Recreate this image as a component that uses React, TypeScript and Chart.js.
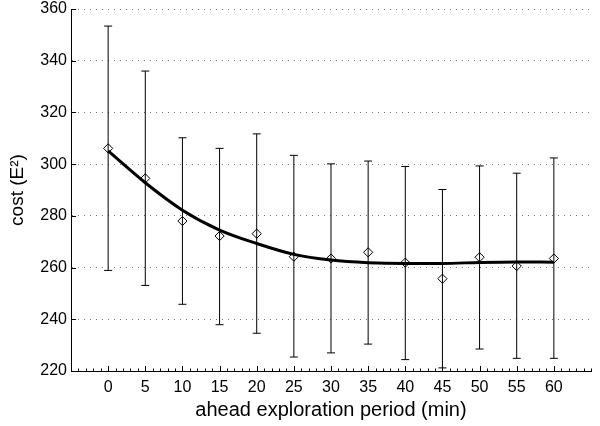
import React, { useEffect, useRef } from "react";
import { Chart, registerables } from "chart.js";
Chart.register(...registerables);

const periods = [0, 5, 10, 15, 20, 25, 30, 35, 40, 45, 50, 55, 60];
const meanCost = [306.1, 294.5, 278.0, 272.2, 273.1, 264.2, 263.5, 265.9, 261.9, 255.7, 264.0, 260.6, 263.5];
const upperCost = [353.4, 336.0, 310.2, 306.1, 311.7, 303.4, 300.1, 301.2, 299.1, 290.2, 299.3, 296.5, 302.4];
const lowerCost = [258.9, 253.1, 245.8, 237.9, 234.6, 225.4, 227.0, 230.4, 224.4, 221.2, 228.5, 224.9, 224.9];
const fitCost = [305.1, 292.8, 282.2, 274.5, 269.3, 265.1, 262.9, 261.9, 261.6, 261.6, 262.0, 262.2, 262.1];
const xTickLabels = [0, 5, 10, 15, 20, 25, 30, 35, 40, 45, 50, 55, 60];
const yTickLabels = [220, 240, 260, 280, 300, 320, 340, 360];

const FONT = "'Liberation Sans', Arial, Helvetica, sans-serif";

const errorBarPlugin = {
  id: "errorBars",
  beforeDatasetsDraw(chart: any) {
    const { ctx, scales } = chart;
    const x = scales.x;
    const y = scales.y;
    ctx.save();
    ctx.strokeStyle = "#000";
    ctx.lineWidth = 1;
    periods.forEach((p, i) => {
      const px = x.getPixelForValue(p);
      const top = y.getPixelForValue(upperCost[i]);
      const bot = y.getPixelForValue(lowerCost[i]);
      ctx.beginPath();
      ctx.moveTo(px, top);
      ctx.lineTo(px, bot);
      ctx.moveTo(px - 4, top);
      ctx.lineTo(px + 4, top);
      ctx.moveTo(px - 4, bot);
      ctx.lineTo(px + 4, bot);
      ctx.stroke();
    });
    ctx.restore();
  },
  afterDraw(chart: any) {
    const { ctx, scales, chartArea } = chart;
    const x = scales.x;
    const y = scales.y;
    ctx.save();
    ctx.strokeStyle = "#000";
    ctx.lineWidth = 1;
    ctx.beginPath();
    for (let v = x.min; v <= x.max; v += 1) {
      const px = Math.round(x.getPixelForValue(v)) + 0.5;
      ctx.moveTo(px, chartArea.bottom);
      ctx.lineTo(px, chartArea.bottom - 2.5);
    }
    xTickLabels.forEach((v) => {
      const px = Math.round(x.getPixelForValue(v)) + 0.5;
      ctx.moveTo(px, chartArea.bottom);
      ctx.lineTo(px, chartArea.bottom - 5);
    });
    yTickLabels.forEach((v) => {
      const py = Math.round(y.getPixelForValue(v)) + 0.5;
      ctx.moveTo(chartArea.left, py);
      ctx.lineTo(chartArea.left + 5, py);
    });
    ctx.stroke();
    ctx.restore();
  },
};

export default function App() {
  const ref = useRef<HTMLCanvasElement | null>(null);
  useEffect(() => {
    document.body.style.margin = "0";
    if (!ref.current) return;
    const chart = new Chart(ref.current, {
      type: "scatter",
      data: {
        datasets: [
          {
            label: "mean",
            data: periods.map((p, i) => ({ x: p, y: meanCost[i] })),
            showLine: false,
            pointStyle: "rectRot",
            pointRadius: 4.6,
            pointBorderWidth: 1,
            pointBorderColor: "#000",
            pointBackgroundColor: "rgba(0,0,0,0)",
            order: 1,
          },
          {
            label: "fit",
            data: periods.map((p, i) => ({ x: p, y: fitCost[i] })),
            showLine: true,
            borderColor: "#000",
            borderWidth: 3,
            pointRadius: 0,
            cubicInterpolationMode: "monotone",
            order: 2,
          },
        ],
      },
      options: {
        responsive: false,
        animation: false,
        layout: { padding: { top: 9, right: 9, left: 0, bottom: 0 } },
        plugins: { legend: { display: false }, tooltip: { enabled: false } },
        scales: {
          x: {
            type: "linear",
            min: -5,
            max: 65,
            afterFit: (s: any) => {
              s.height = 55;
              s.paddingLeft = 0;
              s.paddingRight = 0;
            },
            ticks: {
              stepSize: 5,
              padding: 7,
              color: "#000",
              font: { family: FONT, size: 16 },
              callback: (v: any) => (xTickLabels.includes(Number(v)) ? String(v) : ""),
              maxRotation: 0,
              autoSkip: false,
            },
            grid: { display: false, drawTicks: false },
            border: { display: true, color: "#000", width: 1 },
            title: {
              display: true,
              text: "ahead exploration period (min)",
              color: "#000",
              font: { family: FONT, size: 20 },
              padding: { top: 0, bottom: 4 },
            },
          },
          y: {
            type: "linear",
            min: 220,
            max: 360,
            afterFit: (s: any) => {
              s.width = 71;
              s.paddingTop = 0;
              s.paddingBottom = 0;
            },
            ticks: {
              stepSize: 20,
              padding: 4,
              color: "#000",
              font: { family: FONT, size: 16 },
            },
            grid: { display: true, drawTicks: false, color: "#7a7a7a", lineWidth: 1 },
            border: { display: true, color: "#000", width: 1, dash: [1, 5] },
            title: {
              display: true,
              text: "cost (E²)",
              color: "#000",
              font: { family: FONT, size: 19 },
              padding: { top: 6, bottom: 0 },
            },
          },
        },
      },
      plugins: [errorBarPlugin],
    });
    return () => chart.destroy();
  }, []);
  return (
    <div style={{ width: 600, height: 426 }}>
      <canvas ref={ref} width={600} height={426} style={{ width: 600, height: 426, display: "block" }} />
    </div>
  );
}
